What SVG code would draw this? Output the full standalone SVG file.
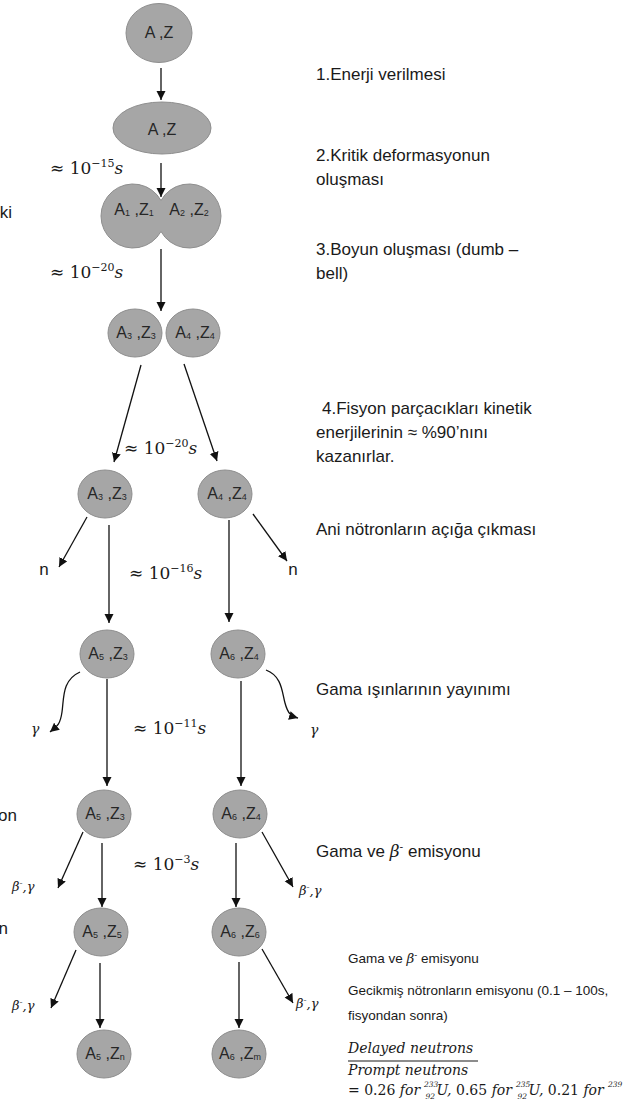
<svg xmlns="http://www.w3.org/2000/svg" width="627" height="1104" viewBox="0 0 627 1104">
<style>
.nd{fill:#a6a6a6;stroke:#8e8e8e;stroke-width:1}
.nt{font-family:"Liberation Sans",Arial,sans-serif;font-size:16px;fill:#262626;text-anchor:middle}
.sb{font-size:9px}
.tx{font-family:"Liberation Sans",Arial,sans-serif;font-size:17px;fill:#1a1a1a}
.sm{font-family:"Liberation Sans",Arial,sans-serif;font-size:13.5px;fill:#1a1a1a}
.mt{font-family:"DejaVu Serif","Liberation Serif",serif;font-size:17px;fill:#1a1a1a}
.it{font-family:"DejaVu Serif","Liberation Serif",serif;font-style:italic;fill:#1a1a1a}
.ps{font-family:"DejaVu Serif","Liberation Serif",serif;font-style:italic;font-size:7.5px;fill:#1a1a1a}
.sup{font-size:11px}
.cn{fill:none;stroke:#111;stroke-width:1.3;marker-end:url(#ah)}
</style>
<defs>
<marker id="ah" markerUnits="userSpaceOnUse" markerWidth="10" markerHeight="10" refX="9" refY="4.5" orient="auto">
<path d="M0,0 L9,4.5 L0,9 Z" fill="#111"/>
</marker>
</defs>
<rect width="627" height="1104" fill="#ffffff"/>

<g id="connectors">
<line class="cn" x1="161" y1="68" x2="161" y2="100"/>
<line class="cn" x1="161" y1="163" x2="161" y2="197"/>
<line class="cn" x1="161" y1="249" x2="161" y2="311"/>
<line class="cn" x1="141" y1="365" x2="114" y2="462"/>
<line class="cn" x1="184" y1="364" x2="217" y2="461"/>
<line class="cn" x1="87" y1="517" x2="59" y2="567"/>
<line class="cn" x1="109" y1="525" x2="109" y2="623"/>
<line class="cn" x1="229" y1="520" x2="229" y2="622"/>
<line class="cn" x1="253" y1="514" x2="287" y2="561"/>
<path class="cn" d="M80,672 C62,680 64,698 62,712 S56,727 50,732"/>
<path class="cn" d="M266,670 C282,676 282,692 285,703 S291,716 298,718"/>
<line class="cn" x1="107" y1="679" x2="107" y2="786"/>
<line class="cn" x1="241" y1="681" x2="241" y2="786"/>
<line class="cn" x1="83" y1="832" x2="58" y2="888"/>
<line class="cn" x1="102" y1="843" x2="102" y2="907"/>
<line class="cn" x1="236" y1="843" x2="236" y2="907"/>
<line class="cn" x1="262" y1="832" x2="293" y2="887"/>
<line class="cn" x1="76" y1="950" x2="51" y2="1008"/>
<line class="cn" x1="100" y1="963" x2="100" y2="1028"/>
<line class="cn" x1="239" y1="962" x2="239" y2="1028"/>
<line class="cn" x1="262" y1="949" x2="293" y2="1003"/>
</g>

<g id="n1"><ellipse class="nd" cx="159" cy="33" rx="33" ry="29.5"/><text class="nt" x="159" y="38">A ,Z</text></g>
<g id="n2"><ellipse class="nd" cx="162" cy="128" rx="49" ry="26"/><text class="nt" x="162" y="135">A ,Z</text></g>
<g id="n3"><path class="nd" d="M161,200.5 A32,32 0 1,0 161,231.5 A32,32 0 1,0 161,200.5 Z"/>
<text class="nt" x="134" y="215">A<tspan class="sb" dy="1">1</tspan><tspan dy="-1"> ,Z</tspan><tspan class="sb" dy="1">1</tspan></text>
<text class="nt" x="189" y="215">A<tspan class="sb" dy="1">2</tspan><tspan dy="-1"> ,Z</tspan><tspan class="sb" dy="1">2</tspan></text></g>
<g id="n4a"><ellipse class="nd" cx="135" cy="333" rx="27" ry="24"/><text class="nt" x="136" y="338">A<tspan class="sb" dy="1">3</tspan><tspan dy="-1"> ,Z</tspan><tspan class="sb" dy="1">3</tspan></text></g>
<g id="n4b"><ellipse class="nd" cx="193" cy="333" rx="27" ry="24"/><text class="nt" x="195" y="338">A<tspan class="sb" dy="1">4</tspan><tspan dy="-1"> ,Z</tspan><tspan class="sb" dy="1">4</tspan></text></g>
<g id="n5a"><ellipse class="nd" cx="105" cy="494" rx="27" ry="24"/><text class="nt" x="107" y="499">A<tspan class="sb" dy="1">3</tspan><tspan dy="-1"> ,Z</tspan><tspan class="sb" dy="1">3</tspan></text></g>
<g id="n5b"><ellipse class="nd" cx="225" cy="494" rx="27" ry="24"/><text class="nt" x="227" y="499">A<tspan class="sb" dy="1">4</tspan><tspan dy="-1"> ,Z</tspan><tspan class="sb" dy="1">4</tspan></text></g>
<g id="n6a"><ellipse class="nd" cx="107" cy="654" rx="27" ry="24"/><text class="nt" x="108" y="659">A<tspan class="sb" dy="1">5</tspan><tspan dy="-1"> ,Z</tspan><tspan class="sb" dy="1">3</tspan></text></g>
<g id="n6b"><ellipse class="nd" cx="238" cy="654" rx="27" ry="24"/><text class="nt" x="239" y="659">A<tspan class="sb" dy="1">6</tspan><tspan dy="-1"> ,Z</tspan><tspan class="sb" dy="1">4</tspan></text></g>
<g id="n7a"><ellipse class="nd" cx="104" cy="814" rx="27" ry="24"/><text class="nt" x="105" y="819">A<tspan class="sb" dy="1">5</tspan><tspan dy="-1"> ,Z</tspan><tspan class="sb" dy="1">3</tspan></text></g>
<g id="n7b"><ellipse class="nd" cx="240" cy="814" rx="27" ry="24"/><text class="nt" x="241" y="819">A<tspan class="sb" dy="1">6</tspan><tspan dy="-1"> ,Z</tspan><tspan class="sb" dy="1">4</tspan></text></g>
<g id="n8a"><ellipse class="nd" cx="101" cy="932" rx="27" ry="24"/><text class="nt" x="102" y="937">A<tspan class="sb" dy="1">5</tspan><tspan dy="-1"> ,Z</tspan><tspan class="sb" dy="1">5</tspan></text></g>
<g id="n8b"><ellipse class="nd" cx="239" cy="932" rx="27" ry="24"/><text class="nt" x="240" y="937">A<tspan class="sb" dy="1">6</tspan><tspan dy="-1"> ,Z</tspan><tspan class="sb" dy="1">6</tspan></text></g>
<g id="n9a"><ellipse class="nd" cx="104" cy="1054" rx="27" ry="24"/><text class="nt" x="105" y="1059">A<tspan class="sb" dy="1">5</tspan><tspan dy="-1"> ,Z</tspan><tspan class="sb" dy="1">n</tspan></text></g>
<g id="n9b"><ellipse class="nd" cx="239" cy="1054" rx="27" ry="24"/><text class="nt" x="240" y="1059">A<tspan class="sb" dy="1">6</tspan><tspan dy="-1"> ,Z</tspan><tspan class="sb" dy="1">m</tspan></text></g>

<g id="time-labels">
<text class="mt" x="50" y="174">≈ 10<tspan class="sup" dy="-7">−15</tspan><tspan dy="7" font-style="italic">s</tspan></text>
<text class="mt" x="50" y="278">≈ 10<tspan class="sup" dy="-7">−20</tspan><tspan dy="7" font-style="italic">s</tspan></text>
<text class="mt" x="124" y="454">≈ 10<tspan class="sup" dy="-7">−20</tspan><tspan dy="7" font-style="italic">s</tspan></text>
<text class="mt" x="129" y="579">≈ 10<tspan class="sup" dy="-7">−16</tspan><tspan dy="7" font-style="italic">s</tspan></text>
<text class="mt" x="133" y="734">≈ 10<tspan class="sup" dy="-7">−11</tspan><tspan dy="7" font-style="italic">s</tspan></text>
<text class="mt" x="133" y="870">≈ 10<tspan class="sup" dy="-7">−3</tspan><tspan dy="7" font-style="italic">s</tspan></text>
</g>

<g id="emission-labels">
<text class="tx" x="44" y="575" text-anchor="middle" font-size="16">n</text>
<text class="tx" x="293" y="575" text-anchor="middle" font-size="16">n</text>
<text class="it" x="31" y="734" font-size="14">γ</text>
<text class="it" x="310" y="735" font-size="14">γ</text>
<text class="it" x="12" y="891" font-size="13">β<tspan font-size="9" dy="-5">-</tspan><tspan dy="5">,γ</tspan></text>
<text class="it" x="299" y="895" font-size="13">β<tspan font-size="9" dy="-5">-</tspan><tspan dy="5">,γ</tspan></text>
<text class="it" x="12" y="1010" font-size="13">β<tspan font-size="9" dy="-5">-</tspan><tspan dy="5">,γ</tspan></text>
<text class="it" x="296" y="1008" font-size="13">β<tspan font-size="9" dy="-5">-</tspan><tspan dy="5">,γ</tspan></text>
</g>

<g id="left-fragments">
<text class="tx" x="12" y="218" text-anchor="end">ki</text>
<text class="tx" x="17" y="821" text-anchor="end">on</text>
<text class="tx" x="8" y="934" text-anchor="end">n</text>
</g>

<g id="descriptions">
<text class="tx" x="316" y="80">1.Enerji verilmesi</text>
<text class="tx" x="316" y="161">2.Kritik deformasyonun</text>
<text class="tx" x="316" y="185">oluşması</text>
<text class="tx" x="316" y="255">3.Boyun oluşması (dumb –</text>
<text class="tx" x="316" y="279">bell)</text>
<text class="tx" x="322" y="414">4.Fisyon parçacıkları kinetik</text>
<text class="tx" x="316" y="438">enerjilerinin ≈ %90’nını</text>
<text class="tx" x="316" y="462">kazanırlar.</text>
<text class="tx" x="316" y="535">Ani nötronların açığa çıkması</text>
<text class="tx" x="316" y="695">Gama ışınlarının yayınımı</text>
<text class="tx" x="316" y="857" font-size="18">Gama ve <tspan class="it">β</tspan><tspan font-size="11" dy="-7">-</tspan><tspan dy="7"> emisyonu</tspan></text>
<text class="sm" x="348" y="963">Gama ve <tspan class="it">β</tspan><tspan font-size="9" dy="-5">-</tspan><tspan dy="5"> emisyonu</tspan></text>
<text class="sm" x="348" y="995">Gecikmiş nötronların emisyonu (0.1 – 100s,</text>
<text class="sm" x="348" y="1020">fisyondan sonra)</text>
<text class="it" x="348" y="1053" font-size="14">Delayed neutrons</text>
<line x1="348" y1="1061" x2="478" y2="1061" stroke="#1a1a1a" stroke-width="1.2"/>
<text class="it" x="348" y="1075" font-size="14">Prompt neutrons</text>
<text class="it" x="348" y="1095" font-size="14"><tspan font-style="normal">= 0.26 </tspan>for <tspan dx="12">U,</tspan><tspan font-style="normal"> 0.65 </tspan>for <tspan dx="12">U,</tspan><tspan font-style="normal"> 0.21 </tspan>for</text>
<text class="ps" x="424" y="1087">233</text>
<text class="ps" x="435" y="1099" text-anchor="end">92</text>
<text class="ps" x="516" y="1087">235</text>
<text class="ps" x="527" y="1099" text-anchor="end">92</text>
<text class="ps" x="608" y="1087">239</text>
</g>
</svg>
